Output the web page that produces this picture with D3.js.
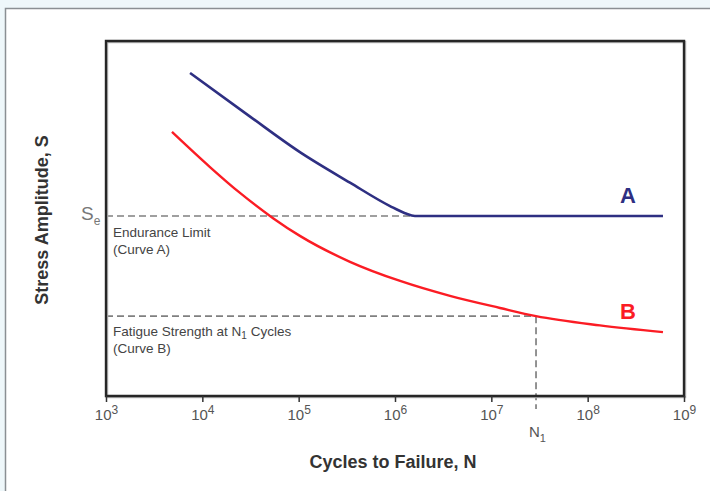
<!DOCTYPE html>
<html><head><meta charset="utf-8">
<script src="https://cdn.jsdelivr.net/npm/d3@7"></script>
<style>
html,body{margin:0;padding:0;background:#eef7fa;}
svg{display:block;}
</style></head>
<body>
<svg id="c" width="710" height="491"></svg>
<script>
// Data (x = cycles to failure, y = relative stress amplitude, 0–100)
const curveA_N = [7.45e3, 3.13e4, 1.03e5, 3.41e5, 8.88e5, 1.27e6, 1.61e6, 6.05e8];
const curveA_S = [91.0, 78.7, 68.7, 60.1, 53.5, 51.5, 50.7, 50.7];
const curveB_N = [4.84e3, 1.20e4, 2.46e4, 5.42e4, 1.03e5, 3.41e5, 1.13e6, 3.72e6, 1.23e7, 2.91e7, 1.34e8, 6.05e8];
const curveB_S = [74.4, 64.5, 57.2, 50.1, 45.1, 37.8, 32.4, 28.2, 24.8, 22.5, 19.9, 18.0];
const tickExponents = [3, 4, 5, 6, 7, 8, 9];
const enduranceLimit = 50.7;
const N1 = 2.91e7;
const fatigueStrengthN1 = 22.5;

const svg = d3.select("#c");
const W = 710, H = 491;
const m = {left: 106, right: 684, top: 41, bottom: 396};
const sans = "Liberation Sans, Arial, sans-serif";

// page background & outer panel
svg.append("rect").attr("x", 0).attr("y", 0).attr("width", W).attr("height", H).attr("fill", "#eef7fa");
svg.append("rect").attr("x", 5.5).attr("y", 8.5).attr("width", W).attr("height", H).attr("fill", "#ffffff")
  .attr("stroke", "#8a8f93").attr("stroke-width", 1.5);

const x = d3.scaleLog().domain([1e3, 1e9]).range([m.left, m.right]);
const y = d3.scaleLinear().domain([0, 100]).range([m.bottom, m.top]);

// dashed reference lines
function dline(x1, y1, x2, y2) {
  svg.append("line").attr("x1", x1).attr("y1", y1).attr("x2", x2).attr("y2", y2)
    .attr("stroke", "#808080").attr("stroke-width", 1.7).attr("stroke-dasharray", "7,4");
}
dline(m.left, y(enduranceLimit), x(curveA_N[6]), y(enduranceLimit));
dline(m.left, y(fatigueStrengthN1), x(N1), y(fatigueStrengthN1));
dline(x(N1), y(fatigueStrengthN1), x(N1), m.bottom + 13);

// curves
const line = d3.line().x(d => x(d[0])).y(d => y(d[1])).curve(d3.curveMonotoneX);
svg.append("path").datum(curveA_N.map((n, i) => [n, curveA_S[i]]))
  .attr("d", line).attr("fill", "none").attr("stroke", "#2e2f82").attr("stroke-width", 2.6);
svg.append("path").datum(curveB_N.map((n, i) => [n, curveB_S[i]]))
  .attr("d", line).attr("fill", "none").attr("stroke", "#fb1c24").attr("stroke-width", 2.4);

// frame (with soft shadow)
svg.append("path")
  .attr("d", `M${m.left + 1},${m.top + 1}H${m.right + 1}V${m.bottom + 1}H${m.left + 1}Z`)
  .attr("fill", "none").attr("stroke", "#bbb").attr("stroke-width", 2.5);
svg.append("path")
  .attr("d", `M${m.left},${m.top}H${m.right}V${m.bottom}H${m.left}Z`)
  .attr("fill", "none").attr("stroke", "#262626").attr("stroke-width", 2.4);

// x axis
const ax = svg.append("g").attr("transform", `translate(0,${m.bottom})`)
  .call(d3.axisBottom(x).tickValues(tickExponents.map(e => Math.pow(10, e))).tickSize(6).tickSizeOuter(0).tickFormat(""));
ax.select(".domain").remove();
ax.selectAll(".tick line").attr("stroke", "#333").attr("stroke-width", 1.5);
ax.selectAll(".tick").each(function(d, i) {
  const t = d3.select(this).append("text").attr("y", 24).attr("text-anchor", "middle")
    .attr("fill", "#555").attr("font-family", sans).attr("font-size", 15);
  t.append("tspan").text("10");
  t.append("tspan").attr("dy", -6).attr("font-size", 12).text(tickExponents[i]);
});

// N1 label
const n1t = svg.append("text").attr("x", x(N1) - 7).attr("y", m.bottom + 41)
  .attr("fill", "#555").attr("font-family", sans).attr("font-size", 15);
n1t.append("tspan").text("N");
n1t.append("tspan").attr("dy", 5).attr("font-size", 11).text("1");

// Se label
const se = svg.append("text").attr("x", 81).attr("y", y(enduranceLimit) + 4)
  .attr("fill", "#777").attr("font-family", sans).attr("font-size", 19);
se.append("tspan").text("S");
se.append("tspan").attr("dy", 5).attr("font-size", 12).text("e");

// annotation texts
function anno(txt, xx, yy) {
  return svg.append("text").attr("x", xx).attr("y", yy).attr("fill", "#444")
    .attr("font-family", sans).attr("font-size", 13.5).text(txt);
}
anno("Endurance Limit", 113, y(enduranceLimit) + 21);
anno("(Curve A)", 113, y(enduranceLimit) + 38);
const fs = svg.append("text").attr("x", 113).attr("y", y(fatigueStrengthN1) + 20).attr("fill", "#444")
  .attr("font-family", sans).attr("font-size", 13.5);
fs.append("tspan").text("Fatigue Strength at N");
fs.append("tspan").attr("dy", 3).attr("font-size", 10).text("1");
fs.append("tspan").attr("dy", -3).text(" Cycles");
anno("(Curve B)", 113, y(fatigueStrengthN1) + 37);

// curve letters
svg.append("text").attr("x", 628).attr("y", 203).attr("text-anchor", "middle")
  .attr("fill", "#2e2f82").attr("font-family", sans).attr("font-weight", "bold").attr("font-size", 22).text("A");
svg.append("text").attr("x", 628).attr("y", 319).attr("text-anchor", "middle")
  .attr("fill", "#fb1c24").attr("font-family", sans).attr("font-weight", "bold").attr("font-size", 22).text("B");

// axis titles
svg.append("text").attr("x", 393).attr("y", 468).attr("text-anchor", "middle")
  .attr("fill", "#333").attr("font-family", sans).attr("font-weight", "bold").attr("font-size", 18)
  .text("Cycles to Failure, N");
svg.append("text").attr("transform", `translate(48,220) rotate(-90)`).attr("text-anchor", "middle")
  .attr("fill", "#333").attr("font-family", sans).attr("font-weight", "bold").attr("font-size", 18)
  .text("Stress Amplitude, S");
</script>
</body></html>
